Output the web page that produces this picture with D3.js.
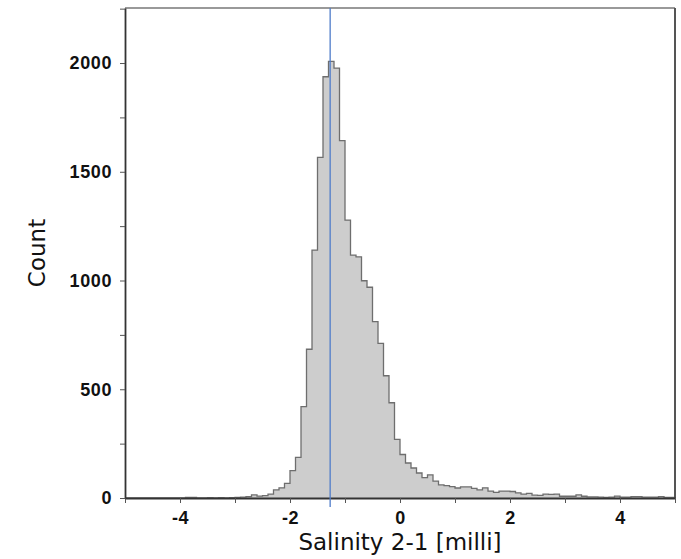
<!DOCTYPE html>
<html>
<head>
<meta charset="utf-8">
<script src="https://cdn.jsdelivr.net/npm/d3@7"></script>
<style>
  body { margin: 0; background: #fff; }
  .tick text { font-family: "Liberation Sans", Arial, sans-serif; font-weight: bold; font-size: 18px; letter-spacing: 0.6px; fill: #111; }
  .axis-title { font-family: "DejaVu Sans", Verdana, sans-serif; font-size: 23px; fill: #111; }
</style>
</head>
<body>
<svg id="chart" width="681" height="559"></svg>
<script>
// bins of 0.1 from -5 to 5
const binStart = -5
const binWidth = 0.1
const counts = [
   0, 0, 0, 0, 0, 0, 0, 0, 0, 0,
   0, 3, 3, 1, 0, 2, 1, 2, 0, 2,
   3, 4, 6, 14, 9, 11, 18, 37, 47, 67,
   126, 187, 420, 684, 1140, 1566, 1937, 2008, 1977, 1643,
   1278, 1117, 1109, 999, 969, 811, 711, 562, 438, 270,
   200, 161, 138, 115, 94, 106, 78, 60, 57, 52,
   46, 51, 51, 44, 37, 47, 32, 26, 32, 32,
   30, 24, 18, 21, 13, 12, 18, 17, 18, 8,
   8, 8, 14, 8, 5, 5, 4, 3, 4, 9,
   4, 4, 6, 6, 4, 4, 4, 6, 3, 3
]
const medianLine = -1.27
const xTicks = [-5, -4, -3, -2, -1, 0, 1, 2, 3, 4, 5]
const xLabels = [-4, -2, 0, 2, 4]
const yTicks = [0, 250, 500, 750, 1000, 1250, 1500, 1750, 2000, 2250]
const yLabels = [0, 500, 1000, 1500, 2000]
const xTitle = "Salinity 2-1 [milli]"
const yTitle = "Count"

const mLeft = 125, mRight = 675, mTop = 8, mBottom = 498
const svg = d3.select("#chart")

const x = d3.scaleLinear().domain([-5, 5]).range([mLeft, mRight])
const y = d3.scaleLinear().domain([0, 2253]).range([mBottom, mTop])

const pts = counts.map(function(c, i) { return { x: binStart + i * binWidth, c: c } })
pts.push({ x: binStart + counts.length * binWidth, c: counts[counts.length - 1] })

const area = d3.area()
   .x(function(d) { return x(d.x) })
   .y0(y(0))
   .y1(function(d) { return y(d.c) })
   .curve(d3.curveStepAfter)

const outline = d3.line()
   .x(function(d) { return x(d.x) })
   .y(function(d) { return y(d.c) })
   .curve(d3.curveStepAfter)

svg.append("path").datum(pts)
   .attr("d", area)
   .attr("fill", "#cdcdcd")

svg.append("path").datum(pts)
   .attr("d", outline)
   .attr("fill", "none")
   .attr("stroke", "#6e6e6e")
   .attr("stroke-width", 1.3)

// frame: top and right lighter
svg.append("line").attr("x1", mLeft).attr("x2", mRight).attr("y1", mTop).attr("y2", mTop)
   .attr("stroke", "#777").attr("stroke-width", 1.5)
svg.append("line").attr("x1", mRight).attr("x2", mRight).attr("y1", mTop).attr("y2", mBottom)
   .attr("stroke", "#555").attr("stroke-width", 2)

// x axis
const xAxis = svg.append("g")
   .attr("transform", "translate(0," + mBottom + ")")
   .call(d3.axisBottom(x).tickValues(xTicks).tickSize(5).tickSizeOuter(0)
      .tickFormat(function(d) { return xLabels.indexOf(d) >= 0 ? String(d) : "" }))
xAxis.select(".domain").attr("stroke", "#333").attr("stroke-width", 2)
xAxis.selectAll(".tick line").attr("stroke", "#555")
xAxis.selectAll(".tick text").attr("dy", "1.0em")

// y axis
const yAxis = svg.append("g")
   .attr("transform", "translate(" + mLeft + ",0)")
   .call(d3.axisLeft(y).tickValues(yTicks).tickSize(5).tickSizeOuter(0)
      .tickFormat(function(d) { return yLabels.indexOf(d) >= 0 ? String(d) : "" }))
yAxis.select(".domain").attr("stroke", "#333").attr("stroke-width", 1.8)
yAxis.selectAll(".tick line").attr("stroke", "#555")
yAxis.selectAll(".tick text").attr("x", -13)

// reference line
svg.append("line")
   .attr("x1", x(medianLine)).attr("x2", x(medianLine))
   .attr("y1", mTop).attr("y2", mBottom + 9)
   .attr("stroke", "#4f7cc9").attr("stroke-width", 1.3)

// titles
svg.append("text").attr("class", "axis-title")
   .attr("x", (mLeft + mRight) / 2).attr("y", 550)
   .attr("text-anchor", "middle")
   .text(xTitle)

svg.append("text").attr("class", "axis-title")
   .attr("transform", "translate(45," + ((mTop + mBottom) / 2) + ") rotate(-90)")
   .attr("text-anchor", "middle")
   .text(yTitle)
</script>
</body>
</html>
